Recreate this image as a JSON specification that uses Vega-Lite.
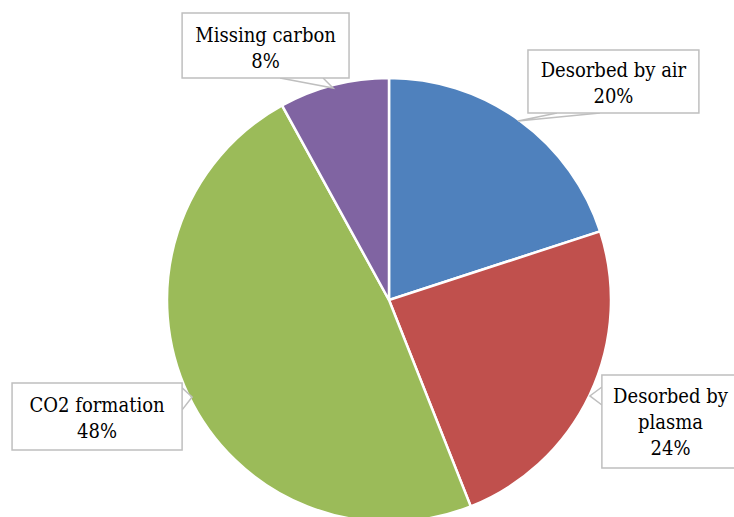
{
  "$schema": "https://vega.github.io/schema/vega-lite/v6.json",
  "width": 778,
  "height": 600,
  "autosize": {"type": "none"},
  "padding": 0,
  "background": "white",
  "config": {"view": {"stroke": null}},
  "datasets": {
    "slices": [
      {"category": "Desorbed by air", "percent": 20, "rank": 1},
      {"category": "Desorbed by plasma", "percent": 24, "rank": 2},
      {"category": "CO2 formation", "percent": 48, "rank": 3},
      {"category": "Missing carbon", "percent": 8, "rank": 4}
    ],
    "boxes": [
      {"category": "Missing carbon", "label": "Missing carbon\n8%", "x1": -93.2, "x2": -18.0, "y1": 129.3, "y2": 100.0, "cx": -55.6, "cy": 116.2},
      {"category": "Desorbed by air", "label": "Desorbed by air\n20%", "x1": 62.6, "x2": 139.6, "y1": 112.6, "y2": 84.2, "cx": 101.1, "cy": 100.5},
      {"category": "Desorbed by plasma", "label": "Desorbed by\nplasma\n24%", "x1": 95.9, "x2": 162.0, "y1": -33.8, "y2": -75.7, "cx": 126.8, "cy": -46.4},
      {"category": "CO2 formation", "label": "CO2 formation\n48%", "x1": -169.8, "x2": -93.2, "y1": -37.4, "y2": -67.6, "cx": -131.5, "cy": -50.5}
    ],
    "tails": [
      {"category": "Missing carbon", "pt": 1, "tx": -49.1, "ty": 100.0},
      {"category": "Missing carbon", "pt": 2, "tx": -25.2, "ty": 95.5},
      {"category": "Missing carbon", "pt": 3, "tx": -29.7, "ty": 100.0},
      {"category": "Desorbed by air", "pt": 1, "tx": 75.7, "ty": 84.2},
      {"category": "Desorbed by air", "pt": 2, "tx": 58.1, "ty": 80.6},
      {"category": "Desorbed by air", "pt": 3, "tx": 95.0, "ty": 84.2},
      {"category": "Desorbed by plasma", "pt": 1, "tx": 95.9, "ty": -39.2},
      {"category": "Desorbed by plasma", "pt": 2, "tx": 90.5, "ty": -43.2},
      {"category": "Desorbed by plasma", "pt": 3, "tx": 95.9, "ty": -47.3},
      {"category": "CO2 formation", "pt": 1, "tx": -93.2, "ty": -39.6},
      {"category": "CO2 formation", "pt": 2, "tx": -88.7, "ty": -43.7},
      {"category": "CO2 formation", "pt": 3, "tx": -93.2, "ty": -49.5}
    ]
  },
  "layer": [
    {
      "data": {"name": "slices"},
      "mark": {"type": "arc", "outerRadius": 222, "stroke": "white", "strokeWidth": 2.5},
      "encoding": {
        "theta": {"field": "percent", "type": "quantitative", "stack": true},
        "order": {"field": "rank", "type": "quantitative"},
        "color": {
          "field": "category",
          "type": "nominal",
          "sort": null,
          "scale": {
            "domain": ["Desorbed by air", "Desorbed by plasma", "CO2 formation", "Missing carbon"],
            "range": ["#4F81BD", "#C0504D", "#9BBB59", "#8064A2"]
          },
          "legend": null
        }
      }
    },
    {
      "data": {"name": "tails"},
      "mark": {"type": "line", "stroke": "#BFBFBF", "strokeWidth": 1.5},
      "encoding": {
        "x": {"field": "tx", "type": "quantitative", "scale": {"domain": [-175.23, 175.23], "nice": false, "zero": false}, "axis": null},
        "y": {"field": "ty", "type": "quantitative", "scale": {"domain": [-135.14, 135.14], "nice": false, "zero": false}, "axis": null},
        "detail": {"field": "category", "type": "nominal"},
        "order": {"field": "pt", "type": "quantitative"}
      }
    },
    {
      "data": {"name": "boxes"},
      "mark": {"type": "rect", "fill": "white", "stroke": "#BFBFBF", "strokeWidth": 1.5},
      "encoding": {
        "x": {"field": "x1", "type": "quantitative"},
        "x2": {"field": "x2"},
        "y": {"field": "y1", "type": "quantitative"},
        "y2": {"field": "y2"}
      }
    },
    {
      "data": {"name": "boxes"},
      "mark": {"type": "text", "font": "DejaVu Serif Condensed, DejaVu Serif", "fontSize": 20, "lineHeight": 26, "lineBreak": "\n", "align": "center", "baseline": "alphabetic", "color": "black"},
      "encoding": {
        "x": {"field": "cx", "type": "quantitative"},
        "y": {"field": "cy", "type": "quantitative"},
        "text": {"field": "label"}
      }
    }
  ]
}
